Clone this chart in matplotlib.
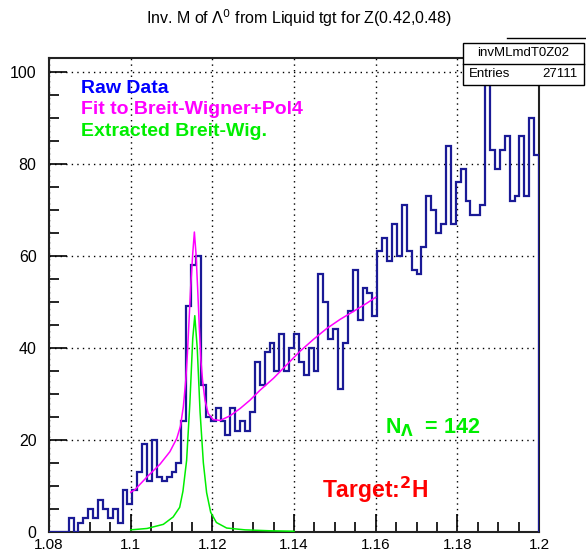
"""Invariant-mass histogram of Lambda0 candidates with the Breit-Wigner fit."""

import numpy as np
import matplotlib
matplotlib.use("Agg")
import matplotlib.pyplot as plt
from matplotlib.patches import Rectangle
from matplotlib.lines import Line2D
from matplotlib.ticker import MultipleLocator

plt.rcParams["font.family"] = ["Liberation Sans", "DejaVu Sans"]

# histogram: 100 bins over [1.08, 1.20] GeV
MASS_LO, MASS_HI, N_BINS = 1.08, 1.20, 100
COUNTS = [
    0, 0, 0, 0, 3, 0, 2, 3, 5, 3,
    7, 5, 3, 5, 2, 9, 6, 9, 13, 19,
    11, 20, 12, 11, 12, 13, 15, 24, 49, 58,
    60, 32, 25, 24, 27, 24, 21, 27, 22, 24,
    22, 26, 37, 32, 39, 41, 35, 43, 35, 40,
    43, 37, 34, 40, 35, 56, 50, 42, 44, 31,
    41, 48, 57, 46, 53, 52, 47, 61, 64, 59,
    67, 60, 71, 61, 57, 56, 62, 73, 70, 65,
    67, 84, 67, 76, 79, 72, 69, 69, 71, 99,
    83, 79, 83, 86, 72, 73, 86, 73, 90, 82,
]

# Breit-Wigner + pol4 fit, drawn over its fit range
FIT_X = [1.1000, 1.1010, 1.1042, 1.1072, 1.1096, 1.1113, 1.1122, 1.1129,
         1.1135, 1.1139, 1.1143, 1.1147, 1.1152, 1.1156, 1.1160, 1.1164,
         1.1168, 1.1172, 1.1176, 1.1182, 1.1190, 1.1202, 1.1219, 1.1243,
         1.1268, 1.1292, 1.1317, 1.1350, 1.1382, 1.1414, 1.1447, 1.1480,
         1.1513, 1.1545, 1.1578, 1.1600]
FIT_Y = [8.6, 9.1, 12.1, 14.7, 17.4, 20.3, 23.0, 27.2,
         33.0, 38.8, 46.0, 53.3, 60.5, 65.2, 60.5, 53.0,
         44.6, 37.3, 33.0, 28.6, 25.7, 24.4, 24.2, 25.2,
         26.8, 28.6, 30.8, 33.4, 36.3, 39.2, 41.8, 44.2,
         46.2, 47.9, 49.7, 51.0]

# extracted Breit-Wigner component
BW_X = [1.1000, 1.1040, 1.1080, 1.1104, 1.1120, 1.1128, 1.1137, 1.1145,
        1.1152, 1.1157, 1.1163, 1.1170, 1.1178, 1.1186, 1.1196, 1.1210,
        1.1235, 1.1280, 1.1340, 1.1400]
BW_Y = [0.4, 0.7, 1.6, 3.2, 5.3, 8.8, 15.5, 28.0,
        42.0, 47.0, 40.0, 26.0, 15.0, 8.5, 4.2, 2.0,
        0.8, 0.4, 0.2, 0.1]

N_LAMBDA = 142
ENTRIES = 27111
HIST_NAME = "invMLmdT0Z02"

HIST_COLOR = "#1a1a96"
FIT_COLOR = "#ff00ff"
BW_COLOR = "#00ee00"

W, H = 586, 552


def fx(px):
    return px / W


def fy(py):
    return 1 - py / H


fig = plt.figure(figsize=(W / 100, H / 100), dpi=100)
ax = fig.add_axes([fx(49), fy(531.7), fx(539) - fx(49), fy(58.3) - fy(531.7)])

edges = np.linspace(MASS_LO, MASS_HI, N_BINS + 1)
ax.stairs(COUNTS, edges, color=HIST_COLOR, linewidth=1.6, zorder=3)
ax.plot(FIT_X, FIT_Y, color=FIT_COLOR, linewidth=1.1, zorder=4)
ax.plot(BW_X, BW_Y, color=BW_COLOR, linewidth=1.1, zorder=4)

ax.set_xlim(MASS_LO, MASS_HI)
ax.set_ylim(0, 103)
ax.xaxis.set_major_locator(MultipleLocator(0.02))
ax.xaxis.set_minor_locator(MultipleLocator(0.005))
ax.yaxis.set_major_locator(MultipleLocator(20))
ax.yaxis.set_minor_locator(MultipleLocator(5))
ax.set_xticklabels([f"{t:g}" for t in ax.get_xticks()])
ax.tick_params(which="both", direction="in", top=False, right=False,
               color="black", width=1.2, labelsize=11.5)
ax.tick_params(which="major", length=13)
ax.tick_params(which="minor", length=7)
ax.tick_params(axis="y", pad=9)
ax.tick_params(axis="x", pad=4.5, labelsize=11)
ax.grid(which="major", color="black", linestyle=(0, (1, 3)), linewidth=1.0)
ax.set_axisbelow(True)
for sp in ax.spines.values():
    sp.set_linewidth(1.5)
    sp.set_color("#222222")

# legend text in the upper left
fig.text(fx(81), fy(88.5), "Raw Data", color="#0000ff", fontsize=14,
         fontweight="bold", va="center", ha="left")
fig.text(fx(81), fy(110), "Fit to Breit-Wigner+Pol4", color=FIT_COLOR,
         fontsize=14, fontweight="bold", va="center", ha="left")
fig.text(fx(81), fy(131.5), "Extracted Breit-Wig.", color=BW_COLOR,
         fontsize=14, fontweight="bold", va="center", ha="left")

fig.text(fx(385), fy(428), rf"N$_{{\mathbf{{\Lambda}}}}$  = {N_LAMBDA}",
         color=BW_COLOR, fontsize=15.5, fontweight="bold", va="center", ha="left")
fig.text(fx(322), fy(490), "Target:$^{\\mathbf{2}}$H", color="#ff0000",
         fontsize=16.5, fontweight="bold", va="center", ha="left")

fig.text(fx(299), fy(18), r"Inv. M of $\Lambda^{0}$ from Liquid tgt for Z(0.42,0.48)",
         fontsize=11.5, ha="center", va="center")

# stats box, drawn above the frame
fig.add_artist(Rectangle((fx(463), fy(85)), fx(584) - fx(463), fy(43) - fy(85),
                         transform=fig.transFigure, facecolor="white",
                         edgecolor="black", linewidth=1.0, zorder=10))
fig.add_artist(Line2D([fx(463), fx(584)], [fy(64), fy(64)],
                      transform=fig.transFigure, color="black", linewidth=1.0, zorder=11))
fig.add_artist(Line2D([fx(507), fx(586)], [fy(38.3), fy(38.3)],
                      transform=fig.transFigure, color="black", linewidth=1.0, zorder=11))
fig.text(fx(523), fy(53), HIST_NAME, fontsize=9.5, ha="center", va="center", zorder=12)
fig.text(fx(469), fy(74), "Entries", fontsize=9.5, ha="left", va="center", zorder=12)
fig.text(fx(578), fy(74), f"{ENTRIES}", fontsize=9.5, ha="right", va="center", zorder=12)

fig.savefig("out.png", dpi=100)
